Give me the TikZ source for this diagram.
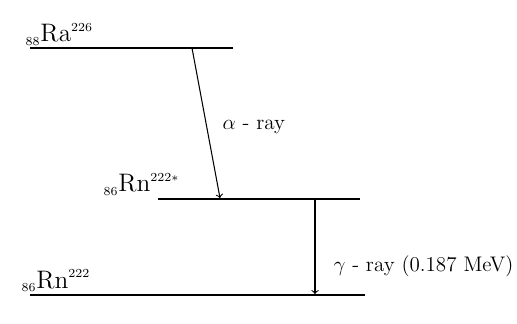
\documentclass[tikz,border=0pt]{standalone}
\usepackage{tikz}
\usetikzlibrary{positioning,calc}
\tikzset{
  every picture/.style={line width=0.6pt},
  slevel/.style={line width=1.2pt},
  sray/.style={->, >=to, line width=0.6pt},
  snuc/.style={inner sep=0pt, font=\Large},
  sraylab/.style={inner sep=0pt, font=\large},
}
\newcommand{\nucl}[3]{${}_{\scriptscriptstyle #1}\mathrm{#2}^{\scriptscriptstyle #3}$}

\begin{document}
\begin{tikzpicture}[x=0.02cm,y=-0.02cm]
  \useasboundingbox (0,0) rectangle (517,324);
  % energy levels
  \coordinate (RaL) at (30,48);
  \coordinate (RaR) at (233,48);
  \coordinate (RnsL) at (158,199);
  \coordinate (RnsR) at (360,199);
  \coordinate (RnL) at (30,295);
  \coordinate (RnR) at (365,295);
  \draw[slevel] (RaL) -- (RaR);
  \draw[slevel] (RnsL) -- (RnsR);
  \draw[slevel] (RnL) -- (RnR);
  % decays
  \coordinate (aS) at (192,48);
  \coordinate (aE) at (220,198);
  \coordinate (gS) at (315,199);
  \coordinate (gE) at (315,294);
  \draw[sray] (aS) -- (aE);
  \draw[sray] (gS) -- (gE);
  % labels
  \node[snuc,anchor=base west] (Ra) at (25,42) {\nucl{88}{Ra}{226}};
  \node[snuc,anchor=base west] (Rns) at (103,192) {\nucl{86}{Rn}{222*}};
  \node[snuc,anchor=base west] (Rn) at (21,288) {\nucl{86}{Rn}{222}};
  \node[sraylab,anchor=base west] (alab) at (222,130) {$\alpha$ - ray};
  \node[sraylab,anchor=base west] (glab) at (333,272) {$\gamma$ - ray (0.187 MeV)};
\end{tikzpicture}
\end{document}
